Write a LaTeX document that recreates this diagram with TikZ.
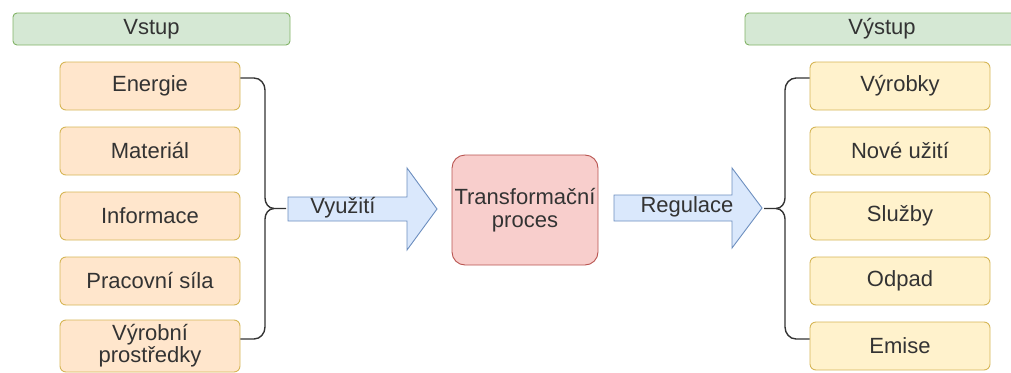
\documentclass[tikz,border=0pt]{standalone}
\usepackage{fontspec}
\setmainfont{Liberation Sans}
\usetikzlibrary{calc,positioning}

\definecolor{headFill}{HTML}{D5E8D4}
\definecolor{headLine}{HTML}{82B366}
\definecolor{inFill}{HTML}{FFE6CC}
\definecolor{outFill}{HTML}{FFF2CC}
\definecolor{itemLine}{HTML}{D6B656}
\definecolor{procFill}{HTML}{F8CECC}
\definecolor{procLine}{HTML}{B85450}
\definecolor{flowFill}{HTML}{DAE8FC}
\definecolor{flowLine}{HTML}{6C8EBF}
\definecolor{txt}{HTML}{333333}

\begin{document}
\begin{tikzpicture}[x=1pt,y=-1pt,
    every node/.style={font=\fontsize{22}{23}\selectfont, text=txt, align=center},
    head/.style={draw=headLine, fill=headFill, rounded corners=4pt, minimum width=277pt, minimum height=32pt, line width=0.9pt},
    item/.style={draw=itemLine, rounded corners=6pt, minimum width=180pt, minimum height=48pt, line width=0.9pt},
    proc/.style={draw=procLine, fill=procFill, rounded corners=13pt, minimum width=146pt, minimum height=110pt, line width=0.9pt, inner sep=0pt},
    flow/.style={draw=flowLine, fill=flowFill, line width=0.9pt, line join=miter},
    bracket/.style={draw=black!80, line width=1.4pt, rounded corners=0pt}]
    \clip (0,0) rectangle (1011,372);

    % headers
    \node[head] (vstup) at (151.5,29) {Vstup};
    \node[head, minimum width=274pt] (vystup) at (882,29) {Výstup};

    % inputs on the left, outputs on the right
    \foreach \t [count=\i from 0] in {Energie, Materiál, Informace, Pracovní síla} {
        \node[item, fill=inFill] (in\i) at (150,86+65*\i) {\t};
    }
    \node[item, fill=inFill, minimum height=52pt] (in4) at (150,346) {Výrobní\\[-1pt]prostředky};
    \foreach \t [count=\i from 0] in {Výrobky, Nové užití, Služby, Odpad, Emise} {
        \node[item, fill=outFill] (out\i) at (900,86+65*\i) {\t};
    }

    % the process in the middle
    \node[proc] (proc) at (525,210) {Transformační\\proces};

    % brackets
    \coordinate (lcusp) at (286,208.5);
    \coordinate (rcusp) at (764,208.5);
    \draw[bracket] ([yshift=8pt]in0.east) -- (254,78) to[out=0,in=90] (265,90) -- (265,198)
        to[out=-90,in=180] (274,208.5) -- (lcusp);
    \draw[bracket] ([yshift=7pt]in4.east) -- (254,339) to[out=0,in=-90] (265,327) -- (265,219)
        to[out=90,in=180] (274,208.5);
    \draw[bracket] ([yshift=8pt]out0.west) -- (796,78) to[out=180,in=90] (785,90) -- (785,198)
        to[out=-90,in=0] (776,208.5) -- (rcusp);
    \draw[bracket] ([yshift=7pt]out4.west) -- (796,339) to[out=180,in=-90] (785,327) -- (785,219)
        to[out=90,in=0] (776,208.5);

    % flow arrows
    \draw[flow] (288,197) -- (407,197) -- (407,168) -- (437,209) -- (407,250) -- (407,221) -- (288,221) -- cycle;
    \node (use) at (343,208) {Využití};
    \draw[flow] (614,195) -- (732,195) -- (732,168) -- (762,208) -- (732,248) -- (732,221) -- (614,221) -- cycle;
    \node (reg) at (687,207) {Regulace};
\end{tikzpicture}
\end{document}
